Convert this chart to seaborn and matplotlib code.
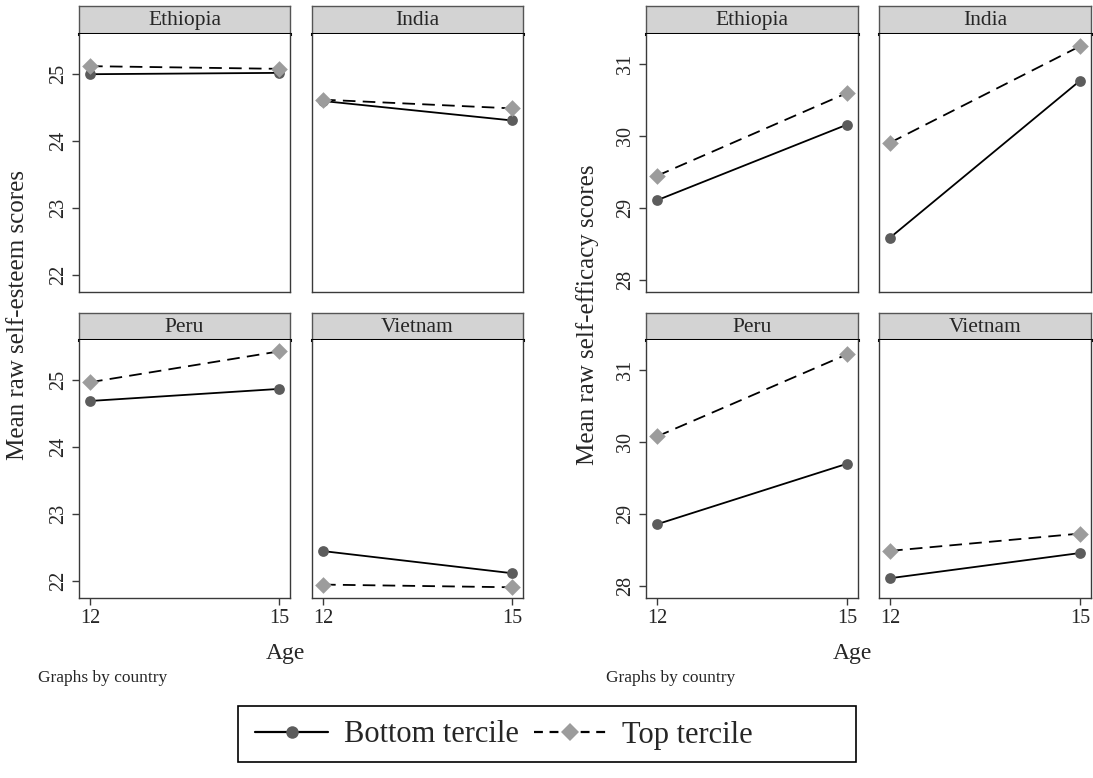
import matplotlib
matplotlib.use("Agg")
import matplotlib.pyplot as plt
from matplotlib.lines import Line2D
from matplotlib.patches import Rectangle
import numpy as np
import pandas as pd
import seaborn as sns

sns.set_theme(style="white")
plt.rcParams["font.family"] = ["Liberation Serif", "DejaVu Serif"]

# ---- data -------------------------------------------------------------
countries = ["Ethiopia", "India", "Peru", "Vietnam"]
ages = [12, 15]
terciles = ["Bottom tercile", "Top tercile"]

# mean raw self-esteem scores, [age 12, age 15] per country
esteem_bottom = [[25.00, 25.02], [24.60, 24.31], [24.69, 24.87], [22.45, 22.12]]
esteem_top = [[25.12, 25.08], [24.62, 24.49], [24.97, 25.43], [21.95, 21.91]]

# mean raw self-efficacy scores, [age 12, age 15] per country
efficacy_bottom = [[29.11, 30.16], [28.59, 30.77], [28.86, 29.70], [28.11, 28.46]]
efficacy_top = [[29.45, 30.60], [29.91, 31.25], [30.08, 31.22], [28.49, 28.73]]

esteem_ticks = [22, 23, 24, 25]
efficacy_ticks = [28, 29, 30, 31]


def long_frame(bottom, top):
    rows = []
    for ci, c in enumerate(countries):
        for ter, vals in zip(terciles, (bottom, top)):
            for a, v in zip(ages, vals[ci]):
                rows.append({"country": c, "tercile": ter, "age": a, "score": v})
    return pd.DataFrame(rows)


esteem_df = long_frame(esteem_bottom, esteem_top)
efficacy_df = long_frame(efficacy_bottom, efficacy_top)

# ---- styling ----------------------------------------------------------
W, H = 1093, 778
fig = plt.figure(figsize=(W / 100, H / 100), dpi=100)
fig.patch.set_facecolor("white")

marker_map = {"Bottom tercile": "o", "Top tercile": "D"}
marker_col = {"Bottom tercile": "#5c5c5c", "Top tercile": "#9c9c9c"}
dash_map = {"Bottom tercile": "", "Top tercile": (7, 4)}
frame_col = "#3a3a3a"
strip_col = "#d3d3d3"


def px_axes(x0, y0, x1, y1):
    return fig.add_axes([x0 / W, 1 - y1 / H, (x1 - x0) / W, (y1 - y0) / H])


col_x = [[(79, 290), (312, 523)], [(646, 858), (879, 1091)]]
row_y = [((6, 34), (34, 292)), ((313, 340), (340, 598))]


def draw_group(df, gi, ylim, yticks, ylabel, ylabel_x, age_x, note_x):
    for pi, country in enumerate(countries):
        r, c = divmod(pi, 2)
        (hx0, hx1) = col_x[gi][c]
        (sy0, sy1), (py0, py1) = row_y[r]

        # strip with the country name
        sax = px_axes(hx0, sy0, hx1, sy1)
        sax.set_facecolor(strip_col)
        sax.set_xticks([])
        sax.set_yticks([])
        for sp in sax.spines.values():
            sp.set_color("#555555")
            sp.set_linewidth(1.0)
        sax.spines["bottom"].set_color("black")
        sax.spines["bottom"].set_linewidth(2.2)
        sax.text(0.5, 0.47, country, ha="center", va="center",
                 fontsize=15.5, transform=sax.transAxes)

        ax = px_axes(hx0, py0, hx1, py1)
        sub = df[df["country"] == country]
        sns.lineplot(data=sub, x="age", y="score", style="tercile",
                     dashes=dash_map, color="black", linewidth=1.3,
                     legend=False, ax=ax, errorbar=None)
        for ter in terciles:
            st = sub[sub["tercile"] == ter]
            sns.scatterplot(data=st, x="age", y="score",
                            marker=marker_map[ter], color=marker_col[ter],
                            s=72 if ter == "Top tercile" else 60,
                            linewidth=0, legend=False, ax=ax, zorder=5)
        ax.set_xlim(11.825, 15.175)
        ax.set_ylim(*ylim)
        ax.set_xlabel("")
        ax.set_ylabel("")
        for sp in ax.spines.values():
            sp.set_color(frame_col)
            sp.set_linewidth(1.0)
        ax.spines["top"].set_visible(False)
        ax.tick_params(axis="both", which="both", direction="out", length=5,
                       width=1.0, color=frame_col, labelsize=14.5, pad=3)
        ax.set_yticks(yticks)
        ax.set_xticks(ages)
        if c == 0:
            ax.tick_params(axis="y", left=True, labelleft=True)
            for lab in ax.get_yticklabels():
                lab.set_rotation(90)
                lab.set_va("center")
        else:
            ax.tick_params(axis="y", left=False, labelleft=False)
        if r == 1:
            ax.tick_params(axis="x", bottom=True, labelbottom=True)
        else:
            ax.tick_params(axis="x", bottom=False, labelbottom=False)

    fig.text(ylabel_x / W, 1 - 315 / H, ylabel, rotation=90,
             ha="center", va="center", fontsize=18)
    fig.text(age_x / W, 1 - 653 / H, "Age", ha="center", va="center",
             fontsize=17)
    fig.text(note_x / W, 1 - 678 / H, "Graphs by country", ha="left",
             va="center", fontsize=12.5)


draw_group(esteem_df, 0, (21.75, 25.6), esteem_ticks,
           "Mean raw self-esteem scores", 18, 285, 38)
draw_group(efficacy_df, 1, (27.835, 31.42), efficacy_ticks,
           "Mean raw self-efficacy scores", 588, 852, 606)

# ---- shared legend ----------------------------------------------------
handles = [
    Line2D([], [], color="black", linewidth=1.6, marker="o",
           markersize=9, markerfacecolor=marker_col["Bottom tercile"],
           markeredgewidth=0, label="Bottom tercile"),
    Line2D([], [], color="black", linewidth=1.6, linestyle=(0, (4, 3)),
           marker="D", markersize=9,
           markerfacecolor=marker_col["Top tercile"], markeredgewidth=0,
           label="Top tercile"),
]
leg = fig.legend(handles=handles, loc="center left", ncol=2,
                 bbox_to_anchor=(255 / W, 1 - 735 / H), fontsize=22,
                 frameon=False, numpoints=1, borderpad=0, borderaxespad=0,
                 handlelength=2.4, handletextpad=0.5, columnspacing=0.5)
fig.patches.append(Rectangle((238 / W, 1 - 762 / H), 618 / W, 56 / H,
                             transform=fig.transFigure, fill=False,
                             edgecolor="black", linewidth=1.2))

fig.savefig("out.png", dpi=100, facecolor="white")
